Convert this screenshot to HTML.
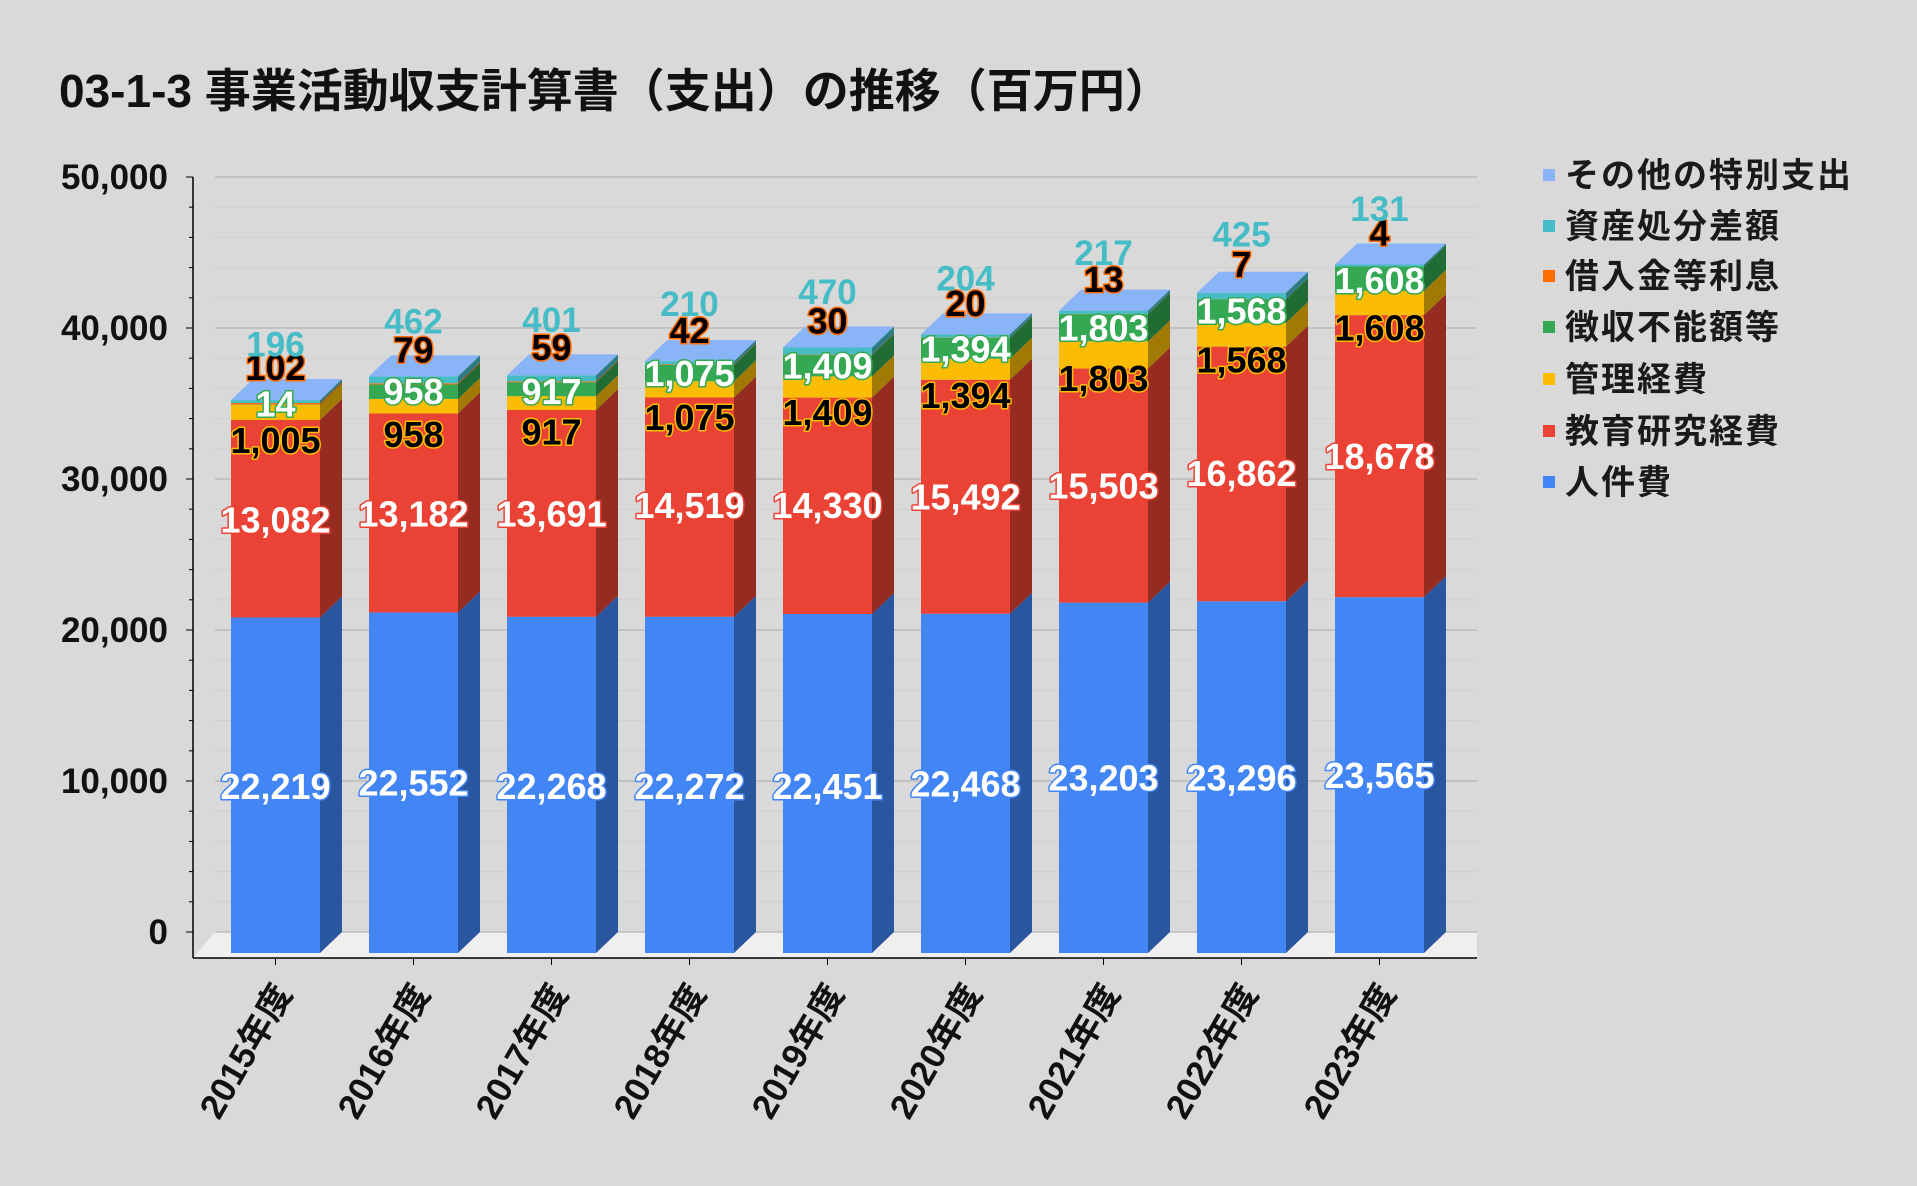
<!DOCTYPE html>
<html><head><meta charset="utf-8"><style>
body{margin:0;background:#d9d9d9;}
svg{display:block;font-family:"Liberation Sans","Noto Sans CJK JP",sans-serif;}
</style></head><body>
<svg id="c" width="1917" height="1186" viewBox="0 0 1917 1186" xmlns="http://www.w3.org/2000/svg">
<rect width="1917" height="1186" fill="#d9d9d9"/>
<text x="59" y="107" font-size="46" font-weight="bold" fill="#111">03-1-3 事業活動収支計算書（支出）の推移（百万円）</text>
<g id="grid"></g>
<g id="bars"></g>
<g id="labels"></g>
<g font-size="34" font-weight="bold" fill="#1a1a1a" letter-spacing="2">
<rect x="1543" y="169" width="12" height="12" fill="#8ab4f8"/><text x="1565" y="187">その他の特別支出</text>
<rect x="1543" y="220" width="12" height="12" fill="#46bdc6"/><text x="1565" y="238">資産処分差額</text>
<rect x="1543" y="270" width="12" height="12" fill="#ff6d01"/><text x="1565" y="288">借入金等利息</text>
<rect x="1543" y="321" width="12" height="12" fill="#34a853"/><text x="1565" y="339">徴収不能額等</text>
<rect x="1543" y="373" width="12" height="12" fill="#fbbc04"/><text x="1565" y="391">管理経費</text>
<rect x="1543" y="425" width="12" height="12" fill="#ea4335"/><text x="1565" y="443">教育研究経費</text>
<rect x="1543" y="476" width="12" height="12" fill="#4285f4"/><text x="1565" y="494">人件費</text>
</g>
<g font-size="35" font-weight="bold" fill="#111" text-anchor="end">
<text x="168" y="189">50,000</text>
<text x="168" y="340">40,000</text>
<text x="168" y="491">30,000</text>
<text x="168" y="642">20,000</text>
<text x="168" y="793">10,000</text>
<text x="168" y="944">0</text>
</g>
<g font-size="35" font-weight="bold" fill="#111" text-anchor="end">
<text transform="translate(293,993) rotate(-60)">2015年度</text>
<text transform="translate(431,993) rotate(-60)">2016年度</text>
<text transform="translate(569,993) rotate(-60)">2017年度</text>
<text transform="translate(707,993) rotate(-60)">2018年度</text>
<text transform="translate(845,993) rotate(-60)">2019年度</text>
<text transform="translate(983,993) rotate(-60)">2020年度</text>
<text transform="translate(1121,993) rotate(-60)">2021年度</text>
<text transform="translate(1259,993) rotate(-60)">2022年度</text>
<text transform="translate(1397,993) rotate(-60)">2023年度</text>
</g>
</svg>
<script>
var NS="http://www.w3.org/2000/svg";
function el(p,t,a,txt){var e=document.createElementNS(NS,t);for(var k in a)e.setAttribute(k,a[k]);if(txt!=null)e.textContent=txt;p.appendChild(e);return e;}
var grid=document.getElementById('grid'),bars=document.getElementById('bars'),labs=document.getElementById('labels');
var S=0.0151;
el(grid,'polygon',{points:"193,958 215,932 1477,932 1477,958",fill:"#efefef"});
for(var v=0;v<=50000;v+=2000){var y=932-v*S;var maj=v%10000==0;
 el(grid,'line',{x1:215,x2:1477,y1:y,y2:y,stroke:maj?"#aaaaaa":"#cfcfcf","stroke-width":1});
 el(grid,'line',{x1:maj?186:189,x2:193,y1:y,y2:y,stroke:"#000"});}
el(grid,'line',{x1:193,x2:193,y1:177,y2:958,stroke:"#000","stroke-width":1.5});
el(grid,'line',{x1:193,x2:1477,y1:958,y2:958,stroke:"#000","stroke-width":1.5});
var data=[
[22219,13082,1005,14,102,196],[22552,13182,958,958,79,462],[22268,13691,917,917,59,401],
[22272,14519,1075,1075,42,210],[22451,14330,1409,1409,30,470],[22468,15492,1394,1394,20,204],
[23203,15503,1803,1803,13,217],[23296,16862,1568,1568,7,425],[23565,18678,1608,1608,4,131]];
var ly=[[643,425,360,330,300,281],[640,420,355,320,286,262],[643,420,353,320,284,261],[643,413,341,305,270,248],
[643,413,337,299,262,238],[641,406,323,285,248,227],[636,397,309,268,228,206],[636,387,294,254,216,191],[634,373,268,229,190,170]];
var txt=[["22,219","13,082","1,005","14","102","196"],["22,552","13,182","958","958","79","462"],["22,268","13,691","917","917","59","401"],
["22,272","14,519","1,075","1,075","42","210"],["22,451","14,330","1,409","1,409","30","470"],["22,468","15,492","1,394","1,394","20","204"],
["23,203","15,503","1,803","1,803","13","217"],["23,296","16,862","1,568","1,568","7","425"],["23,565","18,678","1,608","1,608","4","131"]];
var col=["#4285f4","#ea4335","#fbbc04","#34a853","#ff6d01","#46bdc6"];
var dk=["#2a56a0","#962b22","#a07a05","#216b35","#a84800","#2d7c82"];
var W=89,D=22,H=21;
for(var i=0;i<9;i++){var x=231+i*138;var base=953;var cum=0;
 for(var s=0;s<6;s++){var y1=base-cum*S;cum+=data[i][s];var y2=base-cum*S;
  el(bars,'rect',{x:x,y:y2,width:W,height:y1-y2,fill:col[s]});
  el(bars,'polygon',{points:(x+W)+","+y1+" "+(x+W+D)+","+(y1-H)+" "+(x+W+D)+","+(y2-H)+" "+(x+W)+","+y2,fill:dk[s]});}
 var t=base-cum*S;
 el(bars,'polygon',{points:x+","+t+" "+(x+W)+","+t+" "+(x+W+D)+","+(t-H)+" "+(x+D)+","+(t-H),fill:"#8ab4f8"});
 el(grid,'line',{x1:x+44.5,x2:x+44.5,y1:958,y2:965,stroke:"#000"});
 var cx=x+44.5;
 var st=[["#fff","#4285f4"],["#fff","#ea4335"],["#000","#fbbc04"],["#fff","#34a853"],["#000","#ff6d01"],["#46bdc6",null]];
 for(var s=0;s<6;s++){var a={x:cx,y:ly[i][s]*1.2226+13,"text-anchor":"middle","font-size":36,"font-weight":"bold",fill:st[s][0]};
  if(st[s][1]){a.stroke=st[s][1];a["stroke-width"]=3;a["paint-order"]="stroke";a["stroke-linejoin"]="round";} else {a["font-size"]=35;}
  el(labs,'text',a,txt[i][s]);}
}
</script>
</body></html>
